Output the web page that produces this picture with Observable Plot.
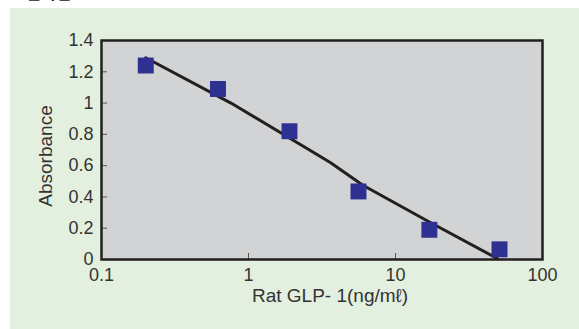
<!DOCTYPE html>
<html>
<head>
<meta charset="utf-8">
<script src="https://cdn.jsdelivr.net/npm/d3@7"></script>
<script src="https://cdn.jsdelivr.net/npm/@observablehq/plot@0.6"></script>
<style>
  html, body { margin: 0; padding: 0; background: #ffffff; width: 579px; height: 329px; overflow: hidden; }
  #wrap { position: relative; width: 579px; height: 329px; }
  #bg { position: absolute; left: 10px; top: 8px; right: 0; bottom: 0; background: #e3efdf; }
  #title { position: absolute; left: 12px; top: -18px; font: bold 16px "Noto Sans CJK KR", sans-serif; color: #231f20; line-height: 20px; white-space: nowrap; }
  #chart { position: absolute; left: 0; top: 0; }
</style>
</head>
<body>
<div id="wrap">
  <div id="bg"></div>
  <div id="title">표준곡선:</div>
  <div id="chart"></div>
</div>
<script>
// Standard points (concentration, absorbance)
const conc = [0.2, 0.62, 1.9, 5.6, 17, 51];
const absorb = [1.24, 1.09, 0.82, 0.435, 0.19, 0.065];
// Fitted curve
const fitConc = [0.2, 0.76, 2.6, 3.6, 6.0, 17, 49.5];
const fitAbs = [1.29, 1.0, 0.70, 0.62, 0.475, 0.24, 0.005];
const xTicks = [0.1, 1, 10, 100];
const yTicks = [0, 0.2, 0.4, 0.6, 0.8, 1, 1.2, 1.4];
const xTitle = "Rat GLP- 1(ng/mℓ)";
const yTitle = "Absorbance";

const points = conc.map((c, i) => ({x: c, y: absorb[i]}));
const fit = fitConc.map((c, i) => ({x: c, y: fitAbs[i]}));

const font = "Liberation Sans, Arial, sans-serif";
const fs = 18;
const plot = Plot.plot({
  width: 579,
  height: 329,
  marginLeft: 101,
  marginRight: 37,
  marginTop: 40,
  marginBottom: 70,
  style: {background: "transparent", fontFamily: font, fontSize: "18px", color: "#333"},
  x: {type: "log", domain: [0.1, 100]},
  y: {domain: [0, 1.4]},
  marks: [
    Plot.frame({fill: "#d2d3d5", stroke: "none"}),
    Plot.axisY(yTicks, {tickSize: 0, tickPadding: 8, label: null, tickFormat: d => String(d), fill: "#333", fontSize: fs}),
    Plot.axisY(yTicks.slice(1, -1), {tickSize: -6, tickFormat: () => "", label: null, stroke: "#555"}),
    Plot.axisX(xTicks, {tickSize: 0, tickPadding: 9, label: null, tickFormat: d => String(d), fill: "#333", fontSize: fs}),
    Plot.axisX(xTicks.slice(1, -1), {tickSize: -6, tickFormat: () => "", label: null, stroke: "#555"}),
    Plot.line(fit, {x: "x", y: "y", stroke: "#231f20", strokeWidth: 3}),
    Plot.dot(points, {x: "x", y: "y", symbol: "square", r: 9, fill: "#2e3192", stroke: "none"}),
    Plot.frame({stroke: "#231f20", strokeWidth: 2.5}),
    Plot.text([yTitle], {text: d => d, frameAnchor: "left", textAnchor: "middle", rotate: -90, dx: -56, dy: 6, fontSize: 19, fill: "#333"}),
    Plot.text([xTitle], {text: d => d, frameAnchor: "bottom", textAnchor: "middle", dy: 42, dx: 8, fontSize: 19, fill: "#333"})
  ]
});
document.getElementById("chart").appendChild(plot);
</script>
</body>
</html>
